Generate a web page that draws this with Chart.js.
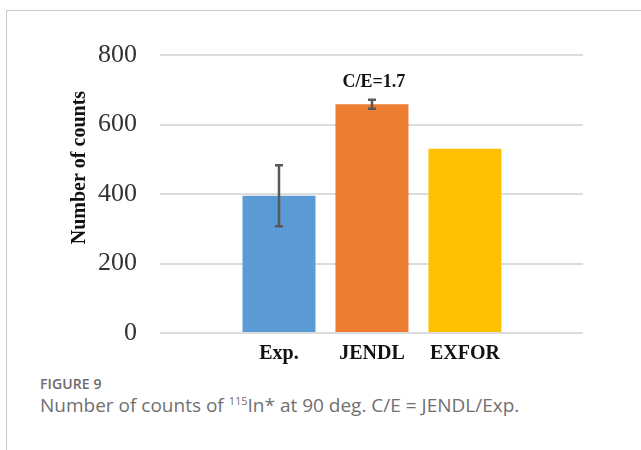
<!DOCTYPE html>
<html>
<head>
<meta charset="utf-8">
<script src="https://cdn.jsdelivr.net/npm/chart.js@4.4.1/dist/chart.umd.min.js"></script>
<style>
  html, body { margin: 0; padding: 0; background: #fff; }
  body { width: 641px; height: 450px; position: relative; overflow: hidden; }
  #frame {
    position: absolute; left: 6px; top: 10px; width: 700px; height: 500px;
    border-left: 1px solid #c8c8c8; border-top: 1px solid #c8c8c8;
  }
  #wrap { position: absolute; left: 0; top: 0; width: 641px; height: 372px; }
  .cap-head {
    position: absolute; left: 40px; top: 374px;
    font-family: "Open Sans", sans-serif; font-size: 14px; font-weight: 600;
    color: #6b6b6b; letter-spacing: 0.1px;
  }
  .cap-text {
    position: absolute; left: 40px; top: 392px;
    font-family: "Open Sans", sans-serif; font-size: 19px; font-weight: 400;
    color: #707070; white-space: nowrap;
  }
  .cap-text sup { font-size: 11px; vertical-align: 7px; line-height: 0; }
</style>
</head>
<body>
<div id="frame"></div>
<div id="wrap"><canvas id="c" width="641" height="372"></canvas></div>
<div class="cap-head">FIGURE 9</div>
<div class="cap-text">Number of counts of <sup>115</sup>In* at 90 deg. C/E = JENDL/Exp.</div>

<script>
// Counts of 115In* at 90 deg
const categories = ['Exp.', 'JENDL', 'EXFOR'];
const counts = [395, 658, 530];
const countErrors = [88, 13, null];
const barColors = ['#5B9BD5', '#ED7D31', '#FFC000'];
const yTicks = [0, 200, 400, 600, 800];

const serif = '"Liberation Serif", "Times New Roman", serif';

// Error bars with caps, drawn through the y scale
const errorBars = {
  id: 'errorBars',
  afterDatasetsDraw(chart) {
    const ctx = chart.ctx;
    const meta = chart.getDatasetMeta(0);
    const y = chart.scales.y;
    ctx.save();
    ctx.strokeStyle = '#595959';
    ctx.lineWidth = 2.5;
    countErrors.forEach((err, i) => {
      if (err == null) return;
      const bar = meta.data[i];
      const top = y.getPixelForValue(counts[i] + err);
      const bot = y.getPixelForValue(counts[i] - err);
      const cx = bar.x;
      ctx.beginPath();
      ctx.moveTo(cx, top); ctx.lineTo(cx, bot);
      ctx.moveTo(cx - 4, top); ctx.lineTo(cx + 4, top);
      ctx.moveTo(cx - 4, bot); ctx.lineTo(cx + 4, bot);
      ctx.stroke();
    });
    ctx.restore();
  }
};

// C/E ratio above the JENDL bar, and the rotated y-axis title
const annotations = {
  id: 'annotations',
  afterDraw(chart) {
    const ctx = chart.ctx;
    const meta = chart.getDatasetMeta(0);
    const y = chart.scales.y;
    const area = chart.chartArea;
    ctx.save();
    const ratio = counts[1] / counts[0];
    ctx.fillStyle = '#111';
    ctx.font = 'bold 18px ' + serif;
    ctx.textAlign = 'center';
    ctx.textBaseline = 'alphabetic';
    const topOfErr = y.getPixelForValue(counts[1] + countErrors[1]);
    ctx.fillText('C/E=' + ratio.toFixed(1), meta.data[1].x + 2, topOfErr - 13);

    ctx.translate(80, area.top + (area.bottom - area.top) * 0.405);
    ctx.rotate(-Math.PI / 2);
    ctx.font = 'bold 20px ' + serif;
    ctx.textBaseline = 'middle';
    ctx.fillText('Number of counts', 0, 0);
    ctx.restore();
  }
};

new Chart(document.getElementById('c'), {
  type: 'bar',
  data: {
    datasets: [{
      data: categories.map((c, i) => ({ x: i, y: counts[i] })),
      backgroundColor: barColors,
      borderWidth: 0,
      barPercentage: 0.785,
      categoryPercentage: 1.0
    }]
  },
  options: {
    responsive: false,
    animation: false,
    events: [],
    layout: { padding: { top: 55, right: 58, left: 0, bottom: 0 } },
    plugins: { legend: { display: false }, tooltip: { enabled: false } },
    scales: {
      x: {
        type: 'linear',
        offset: false,
        min: -1.28,
        max: 3.27,
        grid: { display: false },
        border: { display: false },
        afterFit(scale) { scale.height = 39; },
        afterBuildTicks(scale) {
          scale.ticks = categories.map((c, i) => ({ value: i }));
        },
        ticks: {
          padding: 1,
          color: '#111',
          font: { family: serif, size: 20, weight: 'bold' },
          callback: (v) => categories[v]
        }
      },
      y: {
        min: 0,
        max: 800,
        afterFit(scale) { scale.width = 160; },
        afterBuildTicks(scale) {
          scale.ticks = yTicks.map(v => ({ value: v }));
        },
        grid: { color: '#dcdcdc', lineWidth: 2, drawTicks: false },
        border: { display: false },
        ticks: {
          padding: 23,
          color: '#333',
          font: { family: serif, size: 26 }
        }
      }
    }
  },
  plugins: [errorBars, annotations]
});
</script>
</body>
</html>
